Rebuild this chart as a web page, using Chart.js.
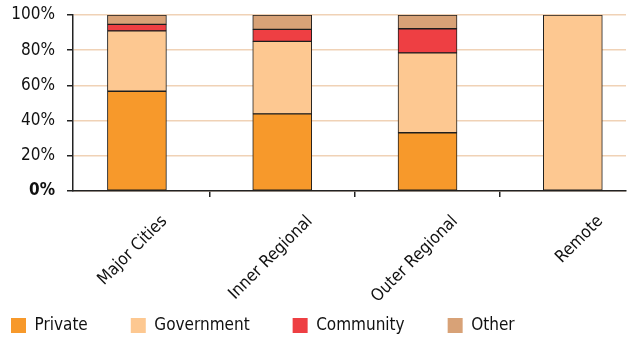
<!DOCTYPE html>
<html>
<head>
<meta charset="utf-8">
<script src="https://cdn.jsdelivr.net/npm/chart.js@4/dist/chart.umd.min.js"></script>
<style>
    html, body { margin: 0; padding: 0; background: #fff; overflow: hidden; }
    #wrap { position: relative; width: 635px; height: 344px; overflow: hidden; }
    /* canvas sits a bit left so the legend can start near the page edge */
    #chart { position: absolute; left: -32px; top: 0; }
</style>
</head>
<body>
<div id="wrap"><canvas id="chart" width="667" height="344"></canvas></div>
<script>
// --- DATA ---
const categories = ['Major Cities', 'Inner Regional', 'Outer Regional', 'Remote'];
const privateVals = [56.7, 43.8, 33.1, 0];
const governmentVals = [34.3, 41.2, 45.4, 100];
const communityVals = [3.7, 6.8, 13.7, 0];
const otherVals = [5.3, 8.2, 7.8, 0];
const yTicks = [0, 20, 40, 60, 80, 100];

const FONT = "'DejaVu Sans Condensed', 'DejaVu Sans', sans-serif";

// bars sit on a linear x axis so the plot can start/end part way into a category
const toPoints = (vals) => vals.map((v, i) => ({ x: i, y: v }));

function makeSet(label, vals, color) {
    return {
        label: label,
        data: toPoints(vals),
        backgroundColor: color,
        borderColor: '#1e1e1e',
        borderWidth: 1,
        borderSkipped: false,
        barThickness: 59
    };
}

const ctx = document.getElementById('chart').getContext('2d');
new Chart(ctx, {
    type: 'bar',
    data: {
        datasets: [
            makeSet('Private', privateVals, '#F7992B'),
            makeSet('Government', governmentVals, '#FDC891'),
            makeSet('Community', communityVals, '#EE3F43'),
            makeSet('Other', otherVals, '#D8A277')
        ]
    },
    options: {
        responsive: false,
        animation: false,
        devicePixelRatio: 1,
        layout: { padding: { top: 0, right: 9, left: 0, bottom: 0 } },
        scales: {
            x: {
                type: 'linear',
                stacked: true,
                offset: false,
                min: -0.44,
                max: 3.366,
                afterFit: (scale) => { scale.height = 83; },
                afterBuildTicks: (scale) => {
                    scale.ticks = categories.map((c, i) => ({ value: i }));
                },
                ticks: {
                    autoSkip: false,
                    maxRotation: 45,
                    minRotation: 45,
                    mirror: true,      // mirror skips the label clip to the axis box
                    padding: -35,      // ...and flips the sign of padding
                    labelOffset: 42,
                    color: '#111',
                    font: { family: FONT, size: 17 },
                    callback: (v) => categories[v]
                },
                grid: {
                    offset: true,
                    drawOnChartArea: false,
                    tickLength: 6,
                    tickColor: '#222',
                    lineWidth: 1.5
                },
                border: { color: '#222', width: 1.5 }
            },
            y: {
                stacked: true,
                min: 0,
                max: 100,
                afterFit: (scale) => {
                    scale.width = 105;
                    scale.paddingTop = 15;   // tick padding would otherwise push the plot down
                    scale.paddingBottom = 10;
                },
                afterBuildTicks: (scale) => {
                    scale.ticks = yTicks.map(v => ({ value: v }));
                },
                ticks: {
                    padding: 12,
                    color: '#111',
                    font: (c) => ({
                        family: FONT,
                        size: 17,
                        weight: c.tick && c.tick.value === 0 ? 'bold' : 'normal'
                    }),
                    callback: (v) => v + '%'
                },
                grid: {
                    color: '#F0D2B6',
                    lineWidth: 1.5,
                    tickLength: 6,
                    tickColor: '#222'
                },
                border: { color: '#222', width: 1.5 }
            }
        },
        plugins: {
            tooltip: { enabled: false },
            legend: {
                position: 'bottom',
                align: 'start',
                labels: {
                    boxWidth: 15,
                    boxHeight: 15,
                    padding: 43,
                    color: '#111',
                    font: { family: FONT, size: 17 },
                    // plain squares, no outline
                    generateLabels: (chart) => {
                        const items = Chart.defaults.plugins.legend.labels.generateLabels(chart);
                        items.forEach(it => { it.lineWidth = 0; it.strokeStyle = it.fillStyle; });
                        return items;
                    }
                }
            }
        }
    }
});
</script>
</body>
</html>
